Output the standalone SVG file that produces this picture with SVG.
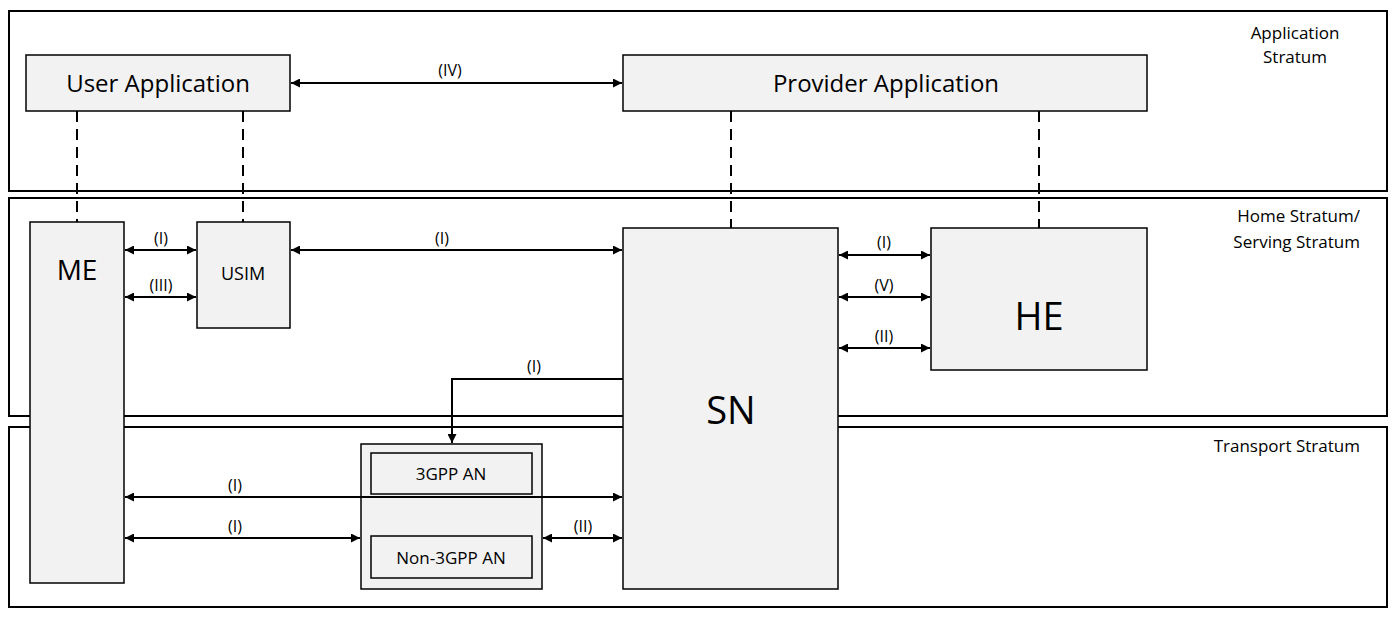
<svg xmlns="http://www.w3.org/2000/svg" width="1398" height="621" viewBox="0 0 1398 621">
<style>
text{font-family:"Open Sans","Liberation Sans",sans-serif;fill:#000}
.st{fill:#fff;stroke:#000;stroke-width:2}
.n{fill:#f2f2f2;stroke:#000;stroke-width:1.5}
.s{font-size:17px}
.l{font-size:16px;text-anchor:middle}
.c{stroke:#000;stroke-width:2;fill:none}
.b{stroke:#000;stroke-width:2;fill:none;marker-start:url(#a);marker-end:url(#a)}
.d{stroke:#000;stroke-width:2;stroke-dasharray:11,7;fill:none}
</style>
<defs>
<marker id="a" viewBox="0 0 10 10" refX="10" refY="5" markerWidth="9" markerHeight="9" markerUnits="userSpaceOnUse" orient="auto-start-reverse"><path d="M0,0L10,5L0,10z" fill="#000"/></marker>
</defs>
<g id="strata">
<rect class="st" x="9" y="11" width="1378" height="180"/>
<rect class="st" x="9" y="198" width="1378" height="218"/>
<rect class="st" x="9" y="427" width="1378" height="180"/>
<text class="s" x="1295" y="39" text-anchor="middle">Application</text>
<text class="s" x="1295" y="63" text-anchor="middle">Stratum</text>
<text class="s" x="1360" y="222" text-anchor="end">Home Stratum/</text>
<text class="s" x="1360" y="248" text-anchor="end">Serving Stratum</text>
<text class="s" x="1360" y="452" text-anchor="end">Transport Stratum</text>
</g>
<g id="userapp"><rect class="n" x="26" y="55" width="264" height="56"/><text x="158" y="92" font-size="24" text-anchor="middle">User Application</text></g>
<g id="providerapp"><rect class="n" x="623" y="55" width="524" height="56"/><text x="886" y="92" font-size="24" text-anchor="middle">Provider Application</text></g>
<g id="me"><rect class="n" x="30" y="222" width="94" height="361"/><text x="77" y="280" font-size="28" text-anchor="middle">ME</text></g>
<g id="usim"><rect class="n" x="197" y="222" width="93" height="106"/><text x="243" y="280" font-size="18" text-anchor="middle">USIM</text></g>
<g id="sn"><rect class="n" x="623" y="228" width="215" height="361"/><text x="731" y="424" font-size="38" text-anchor="middle">SN</text></g>
<g id="he"><rect class="n" x="931" y="228" width="216" height="142"/><text x="1039" y="330" font-size="38" text-anchor="middle">HE</text></g>
<g id="an"><rect class="n" x="361" y="444" width="181" height="145"/>
<rect class="n" x="371" y="453" width="161" height="41"/><text x="451" y="480" font-size="17" text-anchor="middle">3GPP AN</text>
<rect class="n" x="371" y="536" width="161" height="42"/><text x="451" y="564" font-size="17" text-anchor="middle">Non-3GPP AN</text></g>
<g id="connectors">
<path class="d" d="M77,111V222M243,111V222M731,111V228M1039,111V228"/>
<path class="b" d="M291,83H622"/>
<path class="b" d="M125,250H196"/>
<path class="b" d="M125,297H196"/>
<path class="b" d="M291,250H622"/>
<path class="b" d="M839,255H930"/>
<path class="b" d="M839,297H930"/>
<path class="b" d="M839,348H930"/>
<path class="b" d="M125,497H622"/>
<path class="b" d="M125,538H360"/>
<path class="b" d="M543,538H622"/>
<path class="c" d="M623,379H452V443" marker-end="url(#a)"/>
<text class="l" x="450" y="76">(IV)</text>
<text class="l" x="161" y="244">(I)</text>
<text class="l" x="161" y="291">(III)</text>
<text class="l" x="442" y="244">(I)</text>
<text class="l" x="884" y="248">(I)</text>
<text class="l" x="884" y="291">(V)</text>
<text class="l" x="884" y="342">(II)</text>
<text class="l" x="534" y="372">(I)</text>
<text class="l" x="235" y="491">(I)</text>
<text class="l" x="235" y="532">(I)</text>
<text class="l" x="583" y="532">(II)</text>
</g>
</svg>
